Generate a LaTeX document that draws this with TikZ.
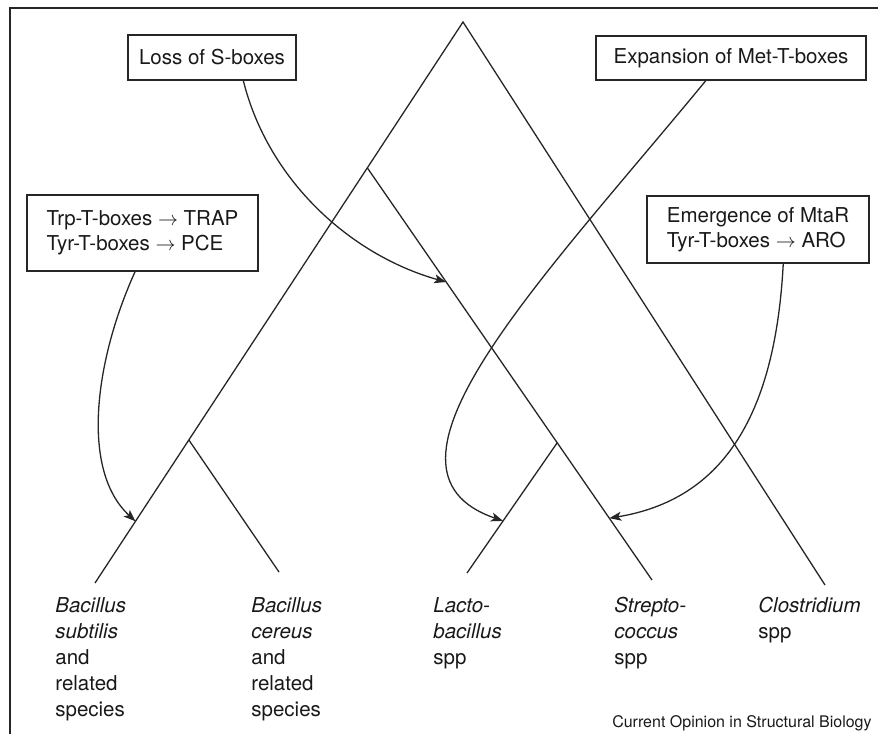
\documentclass[tikz,border=0pt]{standalone}
\usepackage{fontspec}
\setmainfont{TeX Gyre Heros}
\usetikzlibrary{arrows.meta,calc,positioning}

\begin{document}
\begin{tikzpicture}[x=0.5pt,y=-0.5pt,
    box/.style={draw=black!85, line width=0.7pt, inner sep=0pt, align=left, text=black!90, font=\fontsize{10.25}{12.5}\selectfont},
    taxon/.style={anchor=north west, inner sep=0pt, align=left, text=black!90, font=\fontsize{10.25}{13}\selectfont},
    branch/.style={draw=black!85, line width=0.65pt},
    hint/.style={draw=black!85, line width=0.65pt, -{Stealth[length=6pt,width=4.5pt,inset=1.5pt]}}]
    \useasboundingbox (0,0) rectangle (878,734);
    \draw[black!85, line width=0.75pt] (878,8) -- (10,8) -- (10,734);

    \coordinate (root) at (463,22);
    \coordinate (bsub) at (95,583);
    \coordinate (bcer) at (279,572);
    \coordinate (strep) at (652,580);
    \coordinate (lacto) at (467,573);
    \coordinate (clos) at (825,585);
    \coordinate (ncer) at ($(root)!0.745!(bsub)$);
    \coordinate (nstr) at ($(root)!0.26!(bsub)$);
    \coordinate (nlac) at ($(nstr)!0.667!(strep)$);

    \draw[branch] (bsub) -- (root) -- (clos);
    \draw[branch] (ncer) -- (bcer);
    \draw[branch] (nstr) -- (strep);
    \draw[branch] (nlac) -- (lacto);

    \node[box, minimum width=84pt, minimum height=22.5pt] (loss) at (212,57.5) {Loss of S-boxes};
    \node[box, minimum width=135pt, minimum height=22pt] (expansion) at (731,58) {Expansion of Met-T-boxes};
    \node[box, minimum width=115.5pt, minimum height=38pt] (trp) at (142.5,233) {Trp-T-boxes $\rightarrow$ TRAP\\Tyr-T-boxes $\rightarrow$ PCE};
    \node[box, minimum width=111pt, minimum height=33.5pt] (emergence) at (758,229.5) {Emergence of MtaR\\Tyr-T-boxes $\rightarrow$ ARO};

    \coordinate (tloss) at ($(nstr)!0.277!(strep)$);
    \coordinate (texp) at ($(nlac)!0.6!(lacto)$);
    \coordinate (ttrp) at ($(root)!0.89!(bsub)$);
    \coordinate (teme) at ($(nstr)!0.85!(strep)$);

    \draw[hint] ($(loss.south west)!0.685!(loss.south east)$) .. controls (268,180) and (350,255) .. (tloss);
    \draw[hint] ($(expansion.south west)!0.407!(expansion.south east)$) .. controls (540,282) and (355,470) .. (texp);
    \draw[hint] ($(trp.south west)!0.468!(trp.south east)$) .. controls (95,360) and (80,470) .. (ttrp);
    \draw[hint] ($(emergence.south west)!0.613!(emergence.south east)$) .. controls (775,420) and (720,500) .. (teme);

    \node[taxon] (bsubl) at (55,597) {\textit{Bacillus}\\\textit{subtilis}\\and\\related\\species};
    \node[taxon] (bcerl) at (251,597) {\textit{Bacillus}\\\textit{cereus}\\and\\related\\species};
    \node[taxon] (lactol) at (433,597) {\textit{Lacto-}\\\textit{bacillus}\\spp};
    \node[taxon] (strepl) at (614,597) {\textit{Strepto-}\\\textit{coccus}\\spp};
    \node[taxon] (closl) at (758,597) {\textit{Clostridium}\\spp};
    \node[anchor=base east, inner sep=0pt, text=black!90, font=\fontsize{8}{10}\selectfont] (credit) at (872,727) {Current Opinion in Structural Biology};
\end{tikzpicture}
\end{document}
